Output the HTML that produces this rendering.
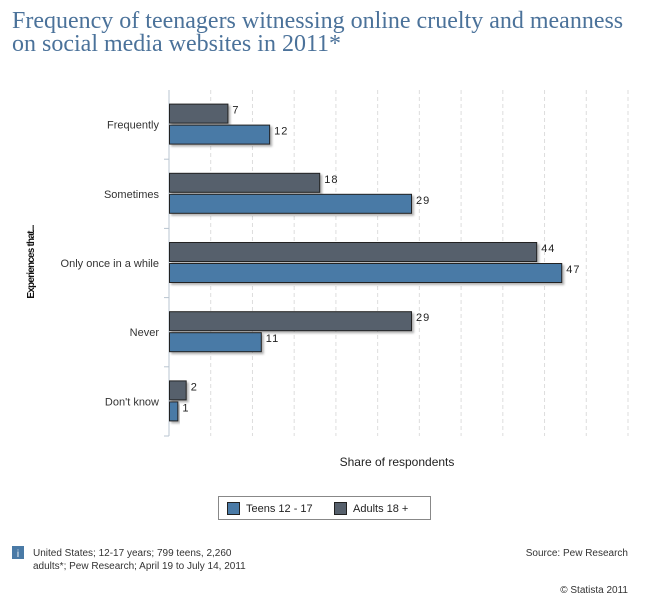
<!DOCTYPE html>
<html><head><meta charset="utf-8"><style>
body{margin:0;background:#fff;width:650px;height:599px;overflow:hidden;font-family:"Liberation Sans",Arial,sans-serif;}
.t{position:absolute;left:12px;top:10px;font-family:"Liberation Serif",serif;font-size:24px;line-height:23px;color:#4b729a;white-space:nowrap;}
svg{position:absolute;left:0;top:0}
</style></head><body>
<div class="t">Frequency of teenagers witnessing online cruelty and meanness<br>on social media websites in 2011*</div>
<svg id="c" width="650" height="599"></svg>
<script>
const categories=["Frequently","Sometimes","Only once in a while","Never","Don't know"];
const adults=[7,18,44,29,2];
const teens=[12,29,47,11,1];
const gridTicks=[5,10,15,20,25,30,35,40,45,50,55];
const NS="http://www.w3.org/2000/svg";
const svgEl=document.getElementById('c');
const x0=169,xmax=55,x1=628,yTop=90,yBottom=436;
const xs=v=>x0+v/xmax*(x1-x0);
const band=(yBottom-yTop)/categories.length;
function el(tag,attrs,parent){const e=document.createElementNS(NS,tag);for(const k in attrs)e.setAttribute(k,attrs[k]);(parent||svgEl).appendChild(e);return e;}
const defs=el('defs',{});
const f=el('filter',{id:'sh',x:'-10%',y:'-10%',width:'130%',height:'150%'},defs);
el('feDropShadow',{dx:2,dy:2,stdDeviation:1,'flood-color':'#000','flood-opacity':0.3},f);
gridTicks.forEach(t=>{const g=el('line',{x1:xs(t),x2:xs(t),y1:yTop,y2:yBottom,stroke:'#ddd','stroke-dasharray':'4,3'});

});
const ax=el('line',{x1:x0,x2:x0,y1:yTop,y2:yBottom,stroke:'#b8c4d0'});


for(let i=1;i<=categories.length;i++){const tk=el('line',{x1:x0-5,x2:x0,y1:yTop+band*i,y2:yTop+band*i,stroke:'#b8c4d0'});

}
categories.forEach((c,i)=>{
const cy=yTop+band*i+band/2;
const lb=el('text',{x:x0-10,y:cy+4,'text-anchor':'end','font-size':11,fill:'#333'});lb.textContent=c;


[[adults,'#56606c',-20],[teens,'#4a7aa6',1]].forEach(([arr,col,off])=>{
const v=arr[i];
const r=el('rect',{x:x0+0.5,y:cy+off-0.5,width:xs(v)-x0,height:19,fill:col,stroke:'#222','stroke-width':1,filter:'url(#sh)'});


const vt=el('text',{x:xs(v)+5,y:cy+off+9,'font-size':11,fill:'#222','letter-spacing':'1'});vt.textContent=v;


});
});
const yt=el('text',{x:0,y:0,transform:'translate(34,262) rotate(-90)','text-anchor':'middle','font-size':10,'font-weight':'bold',fill:'#111','letter-spacing':'-0.8'});yt.textContent='Experiences that...';


const xt=el('text',{x:397,y:466,'text-anchor':'middle','font-size':12,fill:'#222'});xt.textContent='Share of respondents';


const lg=el('g',{});


el('rect',{x:218.5,y:496.5,width:212,height:23,fill:'#fff',stroke:'#888'},lg);
const s1=el('rect',{x:227.5,y:502.5,width:12,height:12,fill:'#4a7aa6',stroke:'#222'},lg);


const l1=el('text',{x:246,y:512,'font-size':11,fill:'#222'},lg);l1.textContent='Teens 12 - 17';
const s2=el('rect',{x:334.5,y:502.5,width:12,height:12,fill:'#56606c',stroke:'#222'},lg);


const l2=el('text',{x:353,y:512,'font-size':11,fill:'#222'},lg);l2.textContent='Adults 18 +';
const ib=el('rect',{x:12,y:546,width:12,height:13,fill:'#4a7aa6'});


const it=el('text',{x:18,y:557,'text-anchor':'middle','font-size':10,fill:'#fff'});it.textContent='i';
const n1=el('text',{x:33,y:556,'font-size':10,fill:'#333'});n1.textContent='United States; 12-17 years; 799 teens, 2,260';


const n2=el('text',{x:33,y:569,'font-size':10,fill:'#333'});n2.textContent='adults*; Pew Research; April 19 to July 14, 2011';
const src=el('text',{x:628,y:556,'text-anchor':'end','font-size':10,fill:'#333'});src.textContent='Source: Pew Research';


const cp=el('text',{x:628,y:593,'text-anchor':'end','font-size':10,fill:'#333'});cp.textContent='© Statista 2011';


</script>
</body></html>
